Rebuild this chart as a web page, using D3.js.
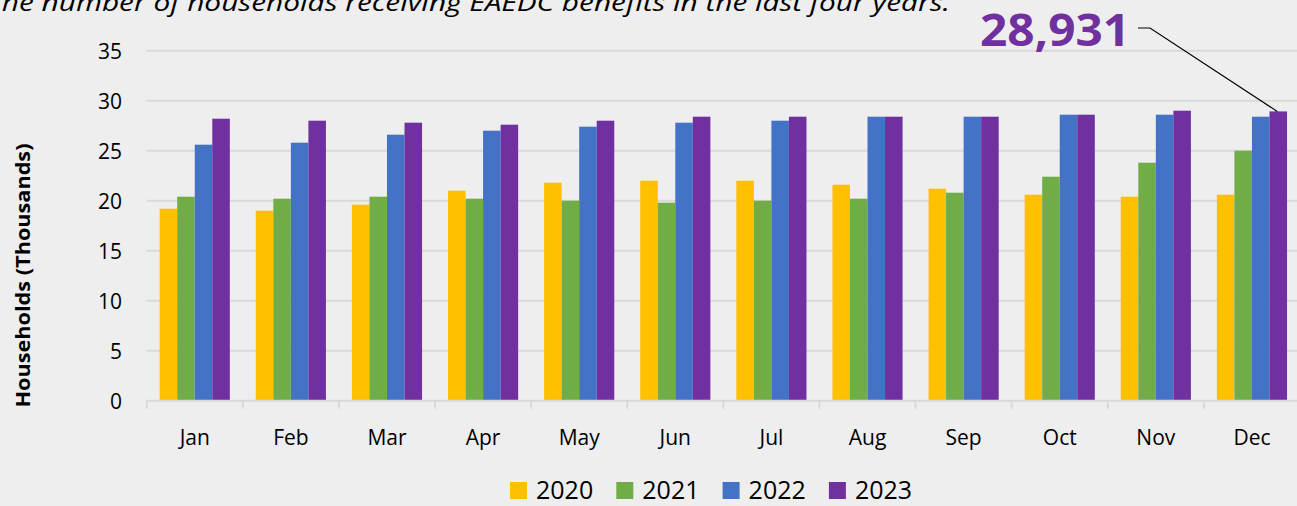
<!DOCTYPE html>
<html>
<head>
<meta charset="utf-8">
<script src="https://cdn.jsdelivr.net/npm/d3@7"></script>
<style>
  body { margin: 0; background: #eeeeee; }
  svg { display: block; font-family: "Open Sans", "Noto Sans", sans-serif; }
</style>
</head>
<body>
<div class="chart"></div>
<script>
// data (thousands of households)
var months = ["Jan", "Feb", "Mar", "Apr", "May", "Jun", "Jul", "Aug", "Sep", "Oct", "Nov", "Dec"];
var years = ["2020", "2021", "2022", "2023"];
var v2020 = [19.2, 19.0, 19.6, 21.0, 21.8, 22.0, 22.0, 21.6, 21.2, 20.6, 20.4, 20.6];
var v2021 = [20.4, 20.2, 20.4, 20.2, 20.0, 19.8, 20.0, 20.2, 20.8, 22.4, 23.8, 25.0];
var v2022 = [25.6, 25.8, 26.6, 27.0, 27.4, 27.8, 28.0, 28.4, 28.4, 28.6, 28.6, 28.4];
var v2023 = [28.2, 28.0, 27.8, 27.6, 28.0, 28.4, 28.4, 28.4, 28.4, 28.6, 29.0, 28.931];
var yTicks = [0, 5, 10, 15, 20, 25, 30, 35];
var colors = ["#FFC000", "#70AD47", "#4472C4", "#7030A0"];
var callout = "28,931";

var series = [v2020, v2021, v2022, v2023];
var rows = [];
for (var i in months) {
  for (var j in years) {
    rows.push({ month: months[i], year: years[j], value: series[j][i], c: colors[j] });
  }
}

var W = 1297, H = 506;
var plotL = 146.7, plotR = 1300, plotT = 50.7, plotB = 400.7;

var svg = d3.select(".chart")
  .append("svg")
  .attr("width", W)
  .attr("height", H);

var y = d3.scaleLinear()
  .domain([0, 35])
  .range([plotB, plotT]);

var x0 = d3.scaleBand()
  .domain(months)
  .range([plotL, plotR])
  .paddingInner(0.27)
  .paddingOuter(0.135);

var x1 = d3.scaleBand()
  .domain(years)
  .range([0, x0.bandwidth()]);

// title, cut off at the top of the image
svg.append("text")
  .attr("x", -13)
  .attr("y", 11)
  .attr("font-size", 24)
  .attr("font-style", "italic")
  .attr("textLength", 963)
  .attr("lengthAdjust", "spacingAndGlyphs")
  .attr("fill", "#000")
  .text("The number of households receiving EAEDC benefits in the last four years.");

// gridlines
svg.append("g")
  .selectAll("line")
  .data(yTicks.slice(1))
  .enter().append("line")
  .attr("x1", plotL)
  .attr("x2", plotR)
  .attr("y1", function (d) { return y(d); })
  .attr("y2", function (d) { return y(d); })
  .attr("stroke", "#d9d9d9")
  .attr("stroke-width", 2);

// y axis labels
var yAxis = svg.append("g")
  .attr("transform", "translate(" + 122 + ",0)")
  .call(d3.axisLeft(y).tickValues(yTicks).tickSize(0).tickPadding(0));
yAxis.select(".domain").remove();
yAxis.selectAll("text")
  .attr("font-size", 21)
  .attr("font-family", "Open Sans")
  .attr("fill", "#000")
  .attr("dy", "0.36em");

svg.append("text")
  .attr("transform", "translate(" + 30 + "," + 275.5 + ") rotate(-90)")
  .attr("text-anchor", "middle")
  .attr("font-size", 20)
  .attr("font-weight", "bold")
  .attr("textLength", 264)
  .attr("lengthAdjust", "spacingAndGlyphs")
  .attr("fill", "#000")
  .text("Households (Thousands)");

// bars
svg.append("g")
  .selectAll(".bar")
  .data(rows)
  .enter().append("rect")
  .attr("class", "bar")
  .attr("x", function (d) { return x0(d.month) + x1(d.year); })
  .attr("y", function (d) { return y(d.value); })
  .attr("width", x1.bandwidth())
  .attr("height", function (d) { return y(0) - y(d.value); })
  .attr("fill", function (d) { return d.c; });

// x axis line and category ticks
svg.append("line")
  .attr("x1", plotL)
  .attr("x2", plotR)
  .attr("y1", y(0))
  .attr("y2", y(0))
  .attr("stroke", "#d9d9d9")
  .attr("stroke-width", 2);

svg.append("g")
  .selectAll("line")
  .data(d3.range(months.length + 1))
  .enter().append("line")
  .attr("x1", function (d) { return plotL + d * x0.step(); })
  .attr("x2", function (d) { return plotL + d * x0.step(); })
  .attr("y1", y(0))
  .attr("y2", y(0) + 8)
  .attr("stroke", "#d9d9d9")
  .attr("stroke-width", 2);

var xAxis = svg.append("g")
  .attr("transform", "translate(0," + y(0) + ")")
  .call(d3.axisBottom(x0).tickSize(0).tickPadding(29));
xAxis.select(".domain").remove();
xAxis.selectAll("text")
  .attr("font-size", 21)
  .attr("font-family", "Open Sans")
  .attr("fill", "#000");

// callout for Dec 2023
var endX = x0("Dec") + x1("2023") + x1.bandwidth() / 2 - 1;
var endY = y(v2023[11]);
svg.append("text")
  .attr("x", 980)
  .attr("y", 46)
  .attr("font-size", 44)
  .attr("font-weight", "bold")
  .attr("fill", "#7030A0")
  .attr("textLength", 150)
  .attr("lengthAdjust", "spacingAndGlyphs")
  .text(callout);

svg.append("polyline")
  .attr("points", [[1138, 28], [1150, 28], [endX, endY]].join(" "))
  .attr("fill", "none")
  .attr("stroke", "#000")
  .attr("stroke-width", 1.2);

// legend
var legend = svg.append("g")
  .selectAll("g")
  .data(years)
  .enter().append("g")
  .attr("transform", function (d, i) { return "translate(" + (510 + i * 106.3) + ",482)"; });

legend.append("rect")
  .attr("width", 17)
  .attr("height", 17)
  .attr("fill", function (d, i) { return colors[i]; });

legend.append("text")
  .attr("x", 26)
  .attr("y", 17)
  .attr("font-size", 25)
  .attr("fill", "#000")
  .text(function (d) { return d; });
</script>
</body>
</html>
